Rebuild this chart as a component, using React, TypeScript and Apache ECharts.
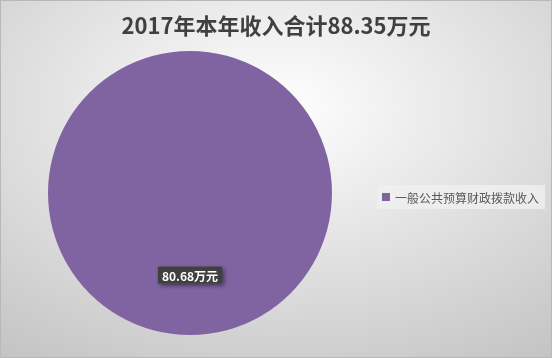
import React, { useEffect, useRef } from "react";
import * as echarts from "echarts";

const titleText = "2017年本年收入合计88.35万元";
const categories = ["一般公共预算财政拨款收入"];
const values = [80.68];
const unit = "万元";

export default function App() {
  const ref = useRef<HTMLDivElement>(null);
  useEffect(() => {
    if (!ref.current) return;
    const chart = echarts.init(ref.current, undefined, { renderer: "svg" });
    chart.setOption({
      animation: false,
      backgroundColor: {
        type: "radial",
        x: 0.5,
        y: 0.3,
        r: 0.85,
        colorStops: [
          { offset: 0, color: "#ffffff" },
          { offset: 1, color: "#c4c4c4" },
        ],
      },
      title: {
        text: titleText,
        left: "center",
        top: 7,
        textStyle: {
          fontFamily: "Noto Sans CJK SC",
          fontWeight: "bold",
          fontSize: 22,
          color: "#404040",
        },
      },
      legend: {
        orient: "vertical",
        left: 376,
        top: 184,
        itemWidth: 8,
        itemHeight: 8,
        icon: "rect",
        padding: [6, 6, 6, 5],
        backgroundColor: "rgba(240,240,240,0.8)",
        textStyle: {
          fontFamily: "Noto Sans CJK SC",
          fontSize: 12,
          color: "#595959",
        },
        data: categories,
      },
      series: [
        {
          type: "pie",
          center: [189, 192],
          radius: [0, 142],
          startAngle: 90,
          silent: true,
          itemStyle: { color: "#8064A2" },
          label: {
            show: true,
            position: "inside",
            formatter: (p: any) => p.value + unit,
            color: "#ffffff",
            fontFamily: "Noto Sans CJK SC",
            fontSize: 12,
            fontWeight: "bold",
            backgroundColor: "#404040",
            padding: [3, 4, 2, 4],
            shadowColor: "rgba(0,0,0,0.5)",
            shadowBlur: 4,
            shadowOffsetX: 2,
            shadowOffsetY: 2,
            offset: [0, 8],
          },
          labelLine: { show: false },
          data: categories.map((c, i) => ({ name: c, value: values[i] })),
        },
      ],
    });
    return () => chart.dispose();
  }, []);
  return (
    <div
      ref={ref}
      style={{
        position: "fixed",
        left: 0,
        top: 0,
        width: 552,
        height: 358,
        boxSizing: "border-box",
        border: "1px solid #b8b8b8",
      }}
    />
  );
}
